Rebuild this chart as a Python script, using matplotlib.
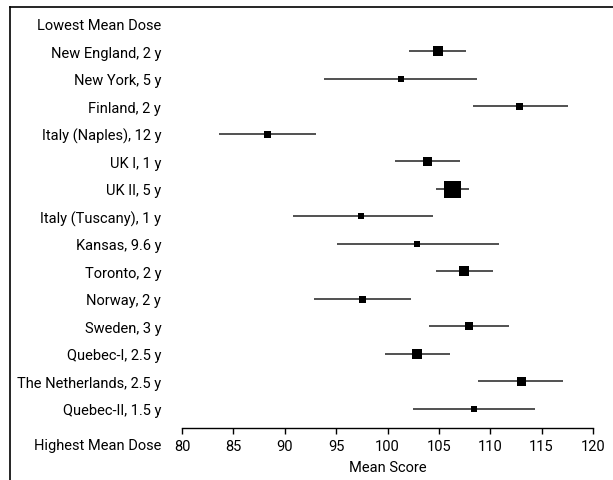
import matplotlib
matplotlib.use("Agg")
import matplotlib.pyplot as plt
from matplotlib.lines import Line2D

plt.rcParams['font.family'] = ['Roboto', 'DejaVu Sans']

# study data
studies = ["New England, 2 y", "New York, 5 y", "Finland, 2 y", "Italy (Naples), 12 y",
           "UK I, 1 y", "UK II, 5 y", "Italy (Tuscany), 1 y", "Kansas, 9.6 y",
           "Toronto, 2 y", "Norway, 2 y", "Sweden, 3 y", "Quebec-I, 2.5 y",
           "The Netherlands, 2.5 y", "Quebec-II, 1.5 y"]
means = [104.9, 101.3, 112.8, 88.3, 103.8, 106.3, 97.4, 102.9, 107.4, 97.5, 107.9, 102.9, 113.0, 108.4]
lows = [102.1, 93.8, 108.3, 83.6, 100.7, 104.7, 90.8, 95.1, 104.7, 92.8, 104.0, 99.8, 108.8, 102.5]
highs = [107.6, 108.7, 117.6, 93.0, 107.1, 107.9, 104.4, 110.9, 110.3, 102.3, 111.8, 106.1, 117.1, 114.4]
weights = [10, 6, 7, 7, 9, 17, 6, 6, 10, 7, 8, 10, 9, 6]  # marker side, px
xticks = [80, 85, 90, 95, 100, 105, 110, 115, 120]

W, H = 613, 481
fig = plt.figure(figsize=(W / 100, H / 100), dpi=100)

row_px = 27.5
top_row_y = 25
axis_y = 429
ax_bottom = (H - axis_y) / H
y_bottom = (axis_y - top_row_y) / row_px
y_top = -top_row_y / row_px
ax = fig.add_axes([182 / W, ax_bottom, (593 - 182) / W, 1 - ax_bottom])

for i, (m, lo, hi, w) in enumerate(zip(means, lows, highs, weights)):
    y = i + 1
    ax.plot([lo, hi], [y, y], color='#222222', lw=1.1, solid_capstyle='butt')
    ax.plot([m], [y], marker='s', color='black', markersize=w * 0.72, mew=0)

fs = 10.5
ax.set_xlim(80, 120)
ax.set_ylim(y_bottom, y_top)
ax.set_xticks(xticks)
ax.set_xticklabels([str(t) for t in xticks], fontsize=fs)
ax.set_yticks(range(len(studies) + 1))
ax.set_yticklabels(["Lowest Mean Dose"] + studies, fontsize=fs)
ax.tick_params(axis='y', length=0, pad=15)
ax.tick_params(axis='x', length=4, width=1, pad=4, direction='out')
for s in ['top', 'right', 'left']:
    ax.spines[s].set_visible(False)
ax.spines['bottom'].set_linewidth(1)
ax.patch.set_alpha(0)
ax.set_xlabel("Mean Score", fontsize=fs, labelpad=5)

fig.text(161 / W, 1 - 446 / H, "Highest Mean Dose", ha='right', va='center', fontsize=fs)

# outer frame (top and left edges)
fig.add_artist(Line2D([10 / W, 1], [1 - 8 / H, 1 - 8 / H], color='black', lw=1.2, transform=fig.transFigure))
fig.add_artist(Line2D([10 / W, 10 / W], [0, 1 - 8 / H], color='black', lw=1.2, transform=fig.transFigure))

fig.savefig("out.png", dpi=100)
